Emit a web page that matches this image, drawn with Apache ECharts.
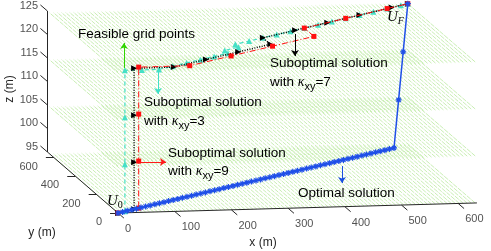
<!DOCTYPE html>
<html><head><meta charset="utf-8">
<script src="https://cdn.jsdelivr.net/npm/echarts@6/dist/echarts.min.js"></script>
<style>html,body{margin:0;padding:0;background:#fff}#c{width:491px;height:251px}</style>
</head><body><div id="c"></div>
<script>
// ---------------- data ----------------
const xTicks = [0, 100, 200, 300, 400, 500, 600];
const yTicks = [0, 200, 400, 600];
const zTicks = [95, 100, 105, 110, 115, 120, 125];
const xMax = 633, yMax = 660, zMin = 95, zMax = 125;
// feasible grid planes
const gridLevels = [95, 105, 115, 125];
const gridXmax = 630, gridYmax = 640, gridStep = 7;

// optimal solution (kappa_xy = 1)
const optX = [0,10,20,30,40,50,60,70,80,90,100,110,120,130,140,150,160,170,180,190,200,210,220,230,240,250,260,270,280,290,300,310,320,330,340,350,360,370,380,390,400,410,420,430,440,450,460,470,480,490,500,510,520,530,540,550,560,570,580,590,600,610,620,630];
const optY = [0,10,20,30,40,50,60,70,80,90,100,110,120,130,140,150,160,170,180,190,200,210,220,230,240,250,260,270,280,290,300,310,320,330,340,350,360,370,380,390,400,410,420,430,440,450,460,470,480,490,500,510,520,530,540,550,560,570,580,590,600,610,620,630];
const optZ = [95,95,95,95,95,95,95,95,95,95,95,95,95,95,95,95,95,95,95,95,95,95,95,95,95,95,95,95,95,95,95,95,95,95,95,95,95,95,95,95,95,95,95,95,95,95,95,95,95,95,95,95,95,95,95,95,95,95,95,95,95,105,115,125];

// suboptimal kappa_xy = 9
const k9X = [0,45,45,45,45,135,225,315,405,405,495,585,630];
const k9Y = [0,45,45,45,45,45,135,225,315,405,495,585,630];
const k9Z = [95,95,105,115,125,125,125,125,125,125,125,125,125];

// suboptimal kappa_xy = 7
const k7X = [0,35,35,35,35,105,175,245,315,315,385,455,525,595,630];
const k7Y = [0,35,35,35,35,35,105,175,245,315,385,455,525,595,630];
const k7Z = [95,95,105,115,125,125,125,125,125,125,125,125,125,125,125];

// suboptimal kappa_xy = 3
const k3X = [0,15,15,15,15,45,75,105,135,165,195,225,225,255,255,285,315,345,375,405,435,465,495,525,555,585,615,630];
const k3Y = [0,15,15,15,15,15,15,45,75,105,135,165,195,225,255,285,315,345,375,405,435,465,495,525,555,585,615,630];
const k3Z = [95,95,105,115,125,125,125,125,125,125,125,125,125,125,125,125,125,125,125,125,125,125,125,125,125,125,125,125];

// ---------------- projection (view of the 3D axes) ----------------
const O = [118, 213];
const EX = [0.567, -0.0159], EY = [-0.107, -0.0925], EZ = [0, -4.7];
function P(x, y, z) {
  return [O[0] + EX[0]*x + EY[0]*y + EZ[0]*(z - zMin),
          O[1] + EX[1]*x + EY[1]*y + EZ[1]*(z - zMin)];
}
function path(xs, ys, zs) { return xs.map((x, i) => P(x, ys[i], zs[i])); }

const FONT = 'Liberation Sans, Arial, Helvetica, sans-serif';
const SERIF = 'Liberation Serif, Times New Roman, serif';
const AX = '#262626';

// hatch (feasible grid points)
const hatch = [];
gridLevels.forEach(z => {
  for (let x = 0; x <= gridXmax; x += gridStep) {
    hatch.push({coords: [P(x, 0, z), P(x, gridYmax, z)]});
  }
});

// axis lines + ticks
const axisSegs = [
  {coords: [P(0,0,zMin), P(xMax,0,zMin)]},
  {coords: [P(0,0,zMin), P(0,yMax,zMin)]},
  {coords: [P(0,yMax,zMin), P(0,yMax,zMax)]}
];
xTicks.forEach(v => axisSegs.push({coords: [P(v,0,zMin), P(v,-55,zMin)]}));
yTicks.forEach(v => axisSegs.push({coords: [P(0,v,zMin), P(-14,v,zMin)]}));
zTicks.forEach(v => axisSegs.push({coords: [P(0,yMax,v), P(0,yMax+65,v)]}));

function tickLabels(vals, fn, align) {
  return {
    type: 'scatter', symbolSize: 0, silent: true, z: 5,
    data: vals.map(v => ({value: fn(v), name: String(v)})),
    label: {show: true, position: 'inside', formatter: p => p.name, align: align,
            verticalAlign: 'middle', color: AX, fontSize: 11, fontFamily: FONT}
  };
}

function sub(k) {
  return {type: 'line', data: path(k.x, k.y, k.z), symbol: k.sym, symbolSize: k.size,
    symbolRotate: k.rot || 0, showSymbol: true, animation: false, z: k.zz,
    itemStyle: {color: k.color, borderColor: k.color, borderWidth: 0},
    lineStyle: {color: k.color, width: k.w, type: k.dash}};
}

const ast = 'path://M5,0L5,10M0,5L10,5M1.5,1.5L8.5,8.5M1.5,8.5L8.5,1.5';

const arrows = [
  {coords: [[124,68],[124,43]], lineStyle: {color: '#2fd400'}},
  {coords: [[158,71],[158,94]], lineStyle: {color: '#3fe0c8'}},
  {coords: [[139,162],[166,162]], lineStyle: {color: '#ff1a1a'}},
  {coords: [[295,34],[295,56]], lineStyle: {color: '#000000'}},
  {coords: [[342,166],[342,183]], lineStyle: {color: '#1a4fe0'}}
];

const chart = echarts.init(document.getElementById('c'), null, {renderer: 'canvas'});
const rich = {
  n: {fontSize: 13.5, fontFamily: FONT, fill: '#000'},
  k: {fontSize: 14, fontFamily: SERIF, fontStyle: 'italic', fill: '#000'},
  s: {fontSize: 11, fontFamily: FONT, fill: '#000', padding: [10,0,0,0]}
};
function txt(x, y, t) {
  return {type: 'text', x: x, y: y, z: 100, style: {text: t, rich: rich, font: '13.5px ' + FONT,
    fill: '#000', textAlign: 'left', textVerticalAlign: 'middle'}};
}
chart.setOption({
  animation: false,
  grid: {left: 0, right: 0, top: 0, bottom: 0},
  xAxis: {type: 'value', min: 0, max: 491, show: false},
  yAxis: {type: 'value', min: 0, max: 251, inverse: true, show: false},
  series: [
    {type: 'lines', coordinateSystem: 'cartesian2d', silent: true, z: 1, data: hatch,
     lineStyle: {color: '#c9eeb4', width: 1, opacity: 1, type: [5,1]}},
    {type: 'lines', coordinateSystem: 'cartesian2d', silent: true, z: 2, data: axisSegs,
     lineStyle: {color: AX, width: 1, opacity: 1}},
    tickLabels(xTicks, v => { const p = P(v,0,zMin); return [p[0]+7, p[1]+16]; }, 'left'),
    tickLabels(yTicks, v => { const p = P(0,v,zMin); return [p[0]-16, p[1]+9]; }, 'right'),
    tickLabels(zTicks, v => { const p = P(0,yMax,v); return [38, p[1]-5]; }, 'right'),
    sub({x:k3X,y:k3Y,z:k3Z,sym:'triangle',size:6,color:'#45e0c6',w:1.2,dash:[4,3],zz:3}),
    sub({x:k7X,y:k7Y,z:k7Z,sym:'triangle',size:6,rot:-90,color:'#000000',w:1.5,dash:[1,1.5],zz:4}),
    sub({x:k9X,y:k9Y,z:k9Z,sym:'rect',size:5,color:'#ff1010',w:1,dash:[6,2,1,2],zz:5}),
    {type: 'line', data: path(optX, optY, optZ), symbol: ast, symbolSize: 6, showSymbol: true, z: 6,
     itemStyle: {color: 'rgba(0,0,0,0)', borderColor: '#1f4fe8', borderWidth: 1.2},
     lineStyle: {color: '#1f4fe8', width: 1.5}},
    {type: 'lines', coordinateSystem: 'cartesian2d', silent: true, z: 7, data: arrows,
     symbol: ['none','arrow'], symbolSize: [0,6], lineStyle: {width: 1, opacity: 1}}
  ],
  graphic: [
    txt(78, 34, '{n|Feasible grid points}'),
    txt(144, 102, '{n|Suboptimal solution}'),
    txt(144, 121, '{n|with }{k|κ}{s|xy}{n|=3}'),
    txt(168, 153, '{n|Suboptimal solution}'),
    txt(168, 171, '{n|with }{k|κ}{s|xy}{n|=9}'),
    txt(270, 63, '{n|Suboptimal solution}'),
    txt(270, 82, '{n|with }{k|κ}{s|xy}{n|=7}'),
    txt(298, 193, '{n|Optimal solution}'),
    {type: 'text', x: 107, y: 201, z: 100, style: {text: '{u|U}{s|0}', textVerticalAlign: 'middle',
      rich: {u: {fontSize: 15, fontFamily: SERIF, fontStyle: 'italic', fill: '#000'},
             s: {fontSize: 10, fontFamily: SERIF, fill: '#000', padding: [9,0,0,0]}}}},
    {type: 'text', x: 387, y: 17, z: 100, style: {text: '{u|U}{s|F}', textVerticalAlign: 'middle',
      rich: {u: {fontSize: 15, fontFamily: SERIF, fontStyle: 'italic', fill: '#000'},
             s: {fontSize: 10, fontFamily: SERIF, fontStyle: 'italic', fill: '#000', padding: [9,0,0,0]}}}},
    {type: 'text', x: 10, y: 89, rotation: Math.PI/2, z: 100, style: {text: 'z (m)', font: '12px ' + FONT,
      fill: AX, textAlign: 'center', textVerticalAlign: 'middle'}},
    {type: 'text', x: 42, y: 233, z: 100, style: {text: 'y (m)', font: '12px ' + FONT,
      fill: AX, textAlign: 'center', textVerticalAlign: 'middle'}},
    {type: 'text', x: 263, y: 243, z: 100, style: {text: 'x (m)', font: '12px ' + FONT,
      fill: AX, textAlign: 'center', textVerticalAlign: 'middle'}}
  ]
});
</script></body></html>
